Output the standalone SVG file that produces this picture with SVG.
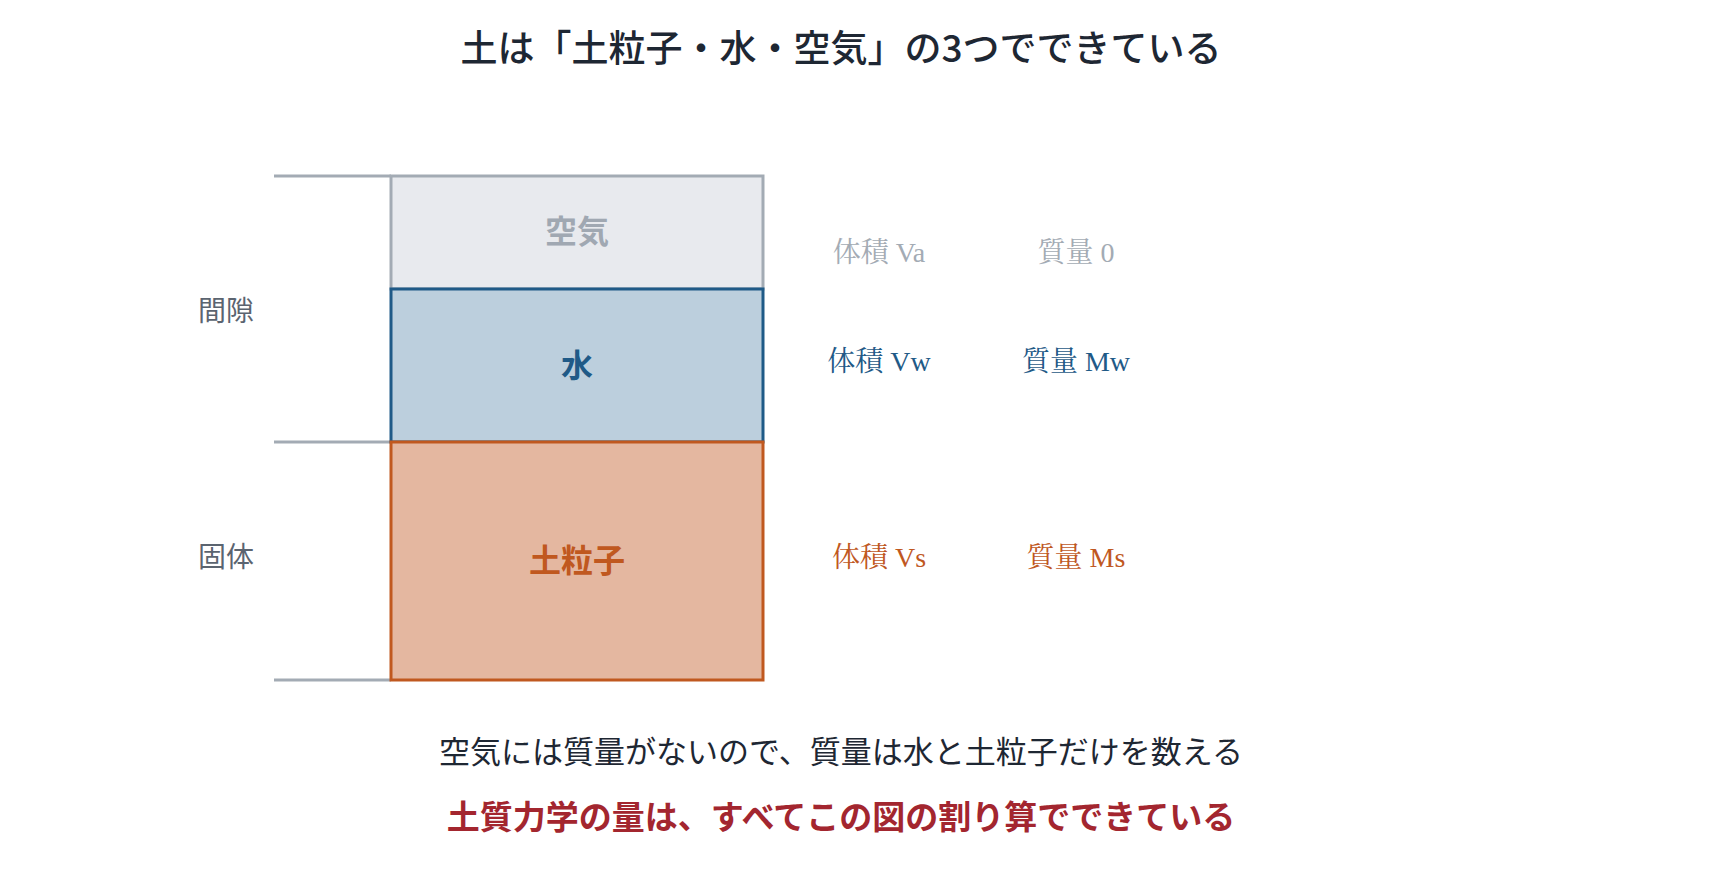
<svg xmlns="http://www.w3.org/2000/svg" width="1720" height="883" viewBox="0 0 1720 883">
<style>
.sans{font-family:"Noto Sans CJK JP","Noto Sans",sans-serif;}
.serif{font-family:"Liberation Serif","Noto Serif CJK JP","Noto Sans CJK JP",serif;font-size:28px;}
text{text-anchor:middle;dominant-baseline:central;}
.title{font-size:37px;font-weight:500;fill:#1e2733;}
.box-label{font-size:32px;font-weight:700;}
.side{font-size:28px;fill:#5b6470;}
.guide{stroke:#a3abb4;stroke-width:3;fill:none;}
.note{font-size:31px;fill:#1e2733;}
.key{font-size:33px;font-weight:700;fill:#a3262f;}
</style>
<rect width="1720" height="883" fill="#ffffff"/>
<text class="sans title" x="841" y="46">土は「土粒子・水・空気」の3つでできている</text>
<g id="connectors">
<line class="guide" x1="274" y1="176" x2="391" y2="176"/>
<line class="guide" x1="274" y1="442" x2="391" y2="442"/>
<line class="guide" x1="274" y1="680" x2="391" y2="680"/>
</g>
<g id="air">
<rect x="391" y="176" width="372" height="113" fill="#e8eaee" stroke="#a3abb4" stroke-width="3"/>
<text class="sans box-label" x="577" y="229" fill="#a0a8b2">空気</text>
</g>
<g id="water">
<rect x="391" y="289" width="372" height="153" fill="#bccfdd" stroke="#1f5a87" stroke-width="3"/>
<text class="sans box-label" x="577" y="363" fill="#1f5a87">水</text>
</g>
<g id="soil">
<rect x="391" y="442" width="372" height="238" fill="#e4b7a0" stroke="#c0581f" stroke-width="3"/>
<text class="sans box-label" x="577" y="558" fill="#c0581f">土粒子</text>
</g>
<g id="label-void">
<text class="sans side" x="226" y="309">間隙</text>
</g>
<g id="label-solid">
<text class="sans side" x="226" y="555">固体</text>
</g>
<g id="air-values">
<text class="serif" x="879" y="252" fill="#a3abb4">体積 Va</text>
<text class="serif" x="1076" y="252" fill="#a3abb4">質量 0</text>
</g>
<g id="water-values">
<text class="serif" x="879" y="361" fill="#1f5a87">体積 Vw</text>
<text class="serif" x="1076" y="361" fill="#1f5a87">質量 Mw</text>
</g>
<g id="soil-values">
<text class="serif" x="879" y="557" fill="#c0581f">体積 Vs</text>
<text class="serif" x="1076" y="557" fill="#c0581f">質量 Ms</text>
</g>
<text class="sans note" x="841" y="749">空気には質量がないので、質量は水と土粒子だけを数える</text>
<text class="sans key" x="841" y="815">土質力学の量は、すべてこの図の割り算でできている</text>
</svg>
